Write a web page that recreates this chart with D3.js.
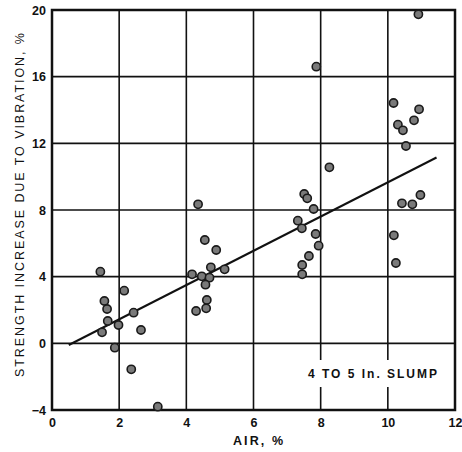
<!DOCTYPE html>
<html><head><meta charset="utf-8">
<script src="https://cdn.jsdelivr.net/npm/d3@7"></script>
<style>body{margin:0;background:#fff}</style>
</head><body>
<svg id="c" width="462" height="452"></svg>
<script>
const airX = [1.44,1.56,1.64,1.66,1.49,1.87,1.98,2.15,2.43,2.65,2.36,3.15,
  4.17,4.35,4.29,4.55,4.46,4.89,4.73,4.69,4.57,4.61,4.59,5.14,
  7.32,7.44,7.51,7.60,7.79,7.85,7.94,7.65,7.45,7.45,7.87,8.26,
  10.17,10.30,10.45,10.54,10.78,10.93,10.91,10.42,10.73,10.97,10.18,10.24];
const strengthY = [4.3,2.54,2.06,1.34,0.66,-0.26,1.1,3.16,1.84,0.8,-1.56,-3.8,
  4.14,8.34,1.94,6.2,4.02,5.6,4.56,3.94,3.52,2.6,2.1,4.44,
  7.36,6.9,8.96,8.7,8.06,6.56,5.86,5.24,4.7,4.14,16.6,10.56,
  14.42,13.12,12.78,11.84,13.38,14.04,19.74,8.4,8.34,8.9,6.48,4.82];
const fitX = [0.5, 11.45];
const fitY = [-0.1, 11.15];
const xTicks = [0,2,4,6,8,10,12];
const yTicks = [-4,0,4,8,12,16,20];
const xTitle = "AIR, %";
const yTitle = "STRENGTH INCREASE DUE TO VIBRATION, %";
const note = "4 TO 5 In. SLUMP";

const svg = d3.select("#c");
const x = d3.scaleLinear().domain([0,12]).range([52,455]);
const y = d3.scaleLinear().domain([-4,20]).range([410,10]);
const font = "'Liberation Sans', Arial, sans-serif";

// grid
svg.append("g").selectAll("line.v").data(xTicks.slice(1,-1)).join("line")
  .attr("x1",d=>x(d)).attr("x2",d=>x(d)).attr("y1",y(20)).attr("y2",y(-4))
  .attr("stroke","#111").attr("stroke-width",1.6);
svg.append("g").selectAll("line.h").data(yTicks.slice(1,-1)).join("line")
  .attr("y1",d=>y(d)).attr("y2",d=>y(d)).attr("x1",x(0)).attr("x2",x(12))
  .attr("stroke","#111").attr("stroke-width",1.6);

// note box
const nb = svg.append("g");
nb.append("rect").attr("x",300).attr("y",360).attr("width",148).attr("height",27).attr("fill","#fff");
nb.append("text").attr("x",308).attr("y",378)
  .attr("font-family",font).attr("font-weight","bold").attr("font-size",12)
  .attr("textLength",129).attr("lengthAdjust","spacing")
  .attr("fill","#111").text(note);

// frame
svg.append("rect").attr("x",x(0)).attr("y",y(20)).attr("width",x(12)-x(0)).attr("height",y(-4)-y(20))
  .attr("fill","none").attr("stroke","#111").attr("stroke-width",2.5);

// fit line
svg.append("line").attr("x1",x(fitX[0])).attr("y1",y(fitY[0])).attr("x2",x(fitX[1])).attr("y2",y(fitY[1]))
  .attr("stroke","#111").attr("stroke-width",2);

// points
svg.append("g").selectAll("circle").data(airX.map((v,i)=>[v,strengthY[i]])).join("circle")
  .attr("cx",d=>x(d[0])).attr("cy",d=>y(d[1])).attr("r",4.1)
  .attr("fill","#7a7a7a").attr("stroke","#1a1a1a").attr("stroke-width",1.6);

// axes
const xa = svg.append("g").attr("transform",`translate(0,${y(-4)})`)
  .call(d3.axisBottom(x).tickValues(xTicks).tickSize(0).tickPadding(8).tickFormat(d3.format("d")));
const ya = svg.append("g").attr("transform",`translate(${x(0)},0)`)
  .call(d3.axisLeft(y).tickValues(yTicks).tickSize(0).tickPadding(6).tickFormat(d3.format("d")));
[xa,ya].forEach(a=>{a.select(".domain").remove();
  a.selectAll("text").attr("font-family",font).attr("font-weight","bold").attr("font-size",12.5).attr("fill","#111");});

svg.append("text").attr("x",233).attr("y",445)
  .attr("font-family",font).attr("font-weight","bold").attr("font-size",12.5)
  .attr("textLength",50).attr("lengthAdjust","spacing")
  .attr("fill","#111").text(xTitle);
svg.append("text").attr("transform",`translate(24,377) rotate(-90)`)
  .attr("font-family",font).attr("font-size",12.5)
  .attr("textLength",344).attr("lengthAdjust","spacing")
  .attr("fill","#111").text(yTitle);
</script>
</body></html>
